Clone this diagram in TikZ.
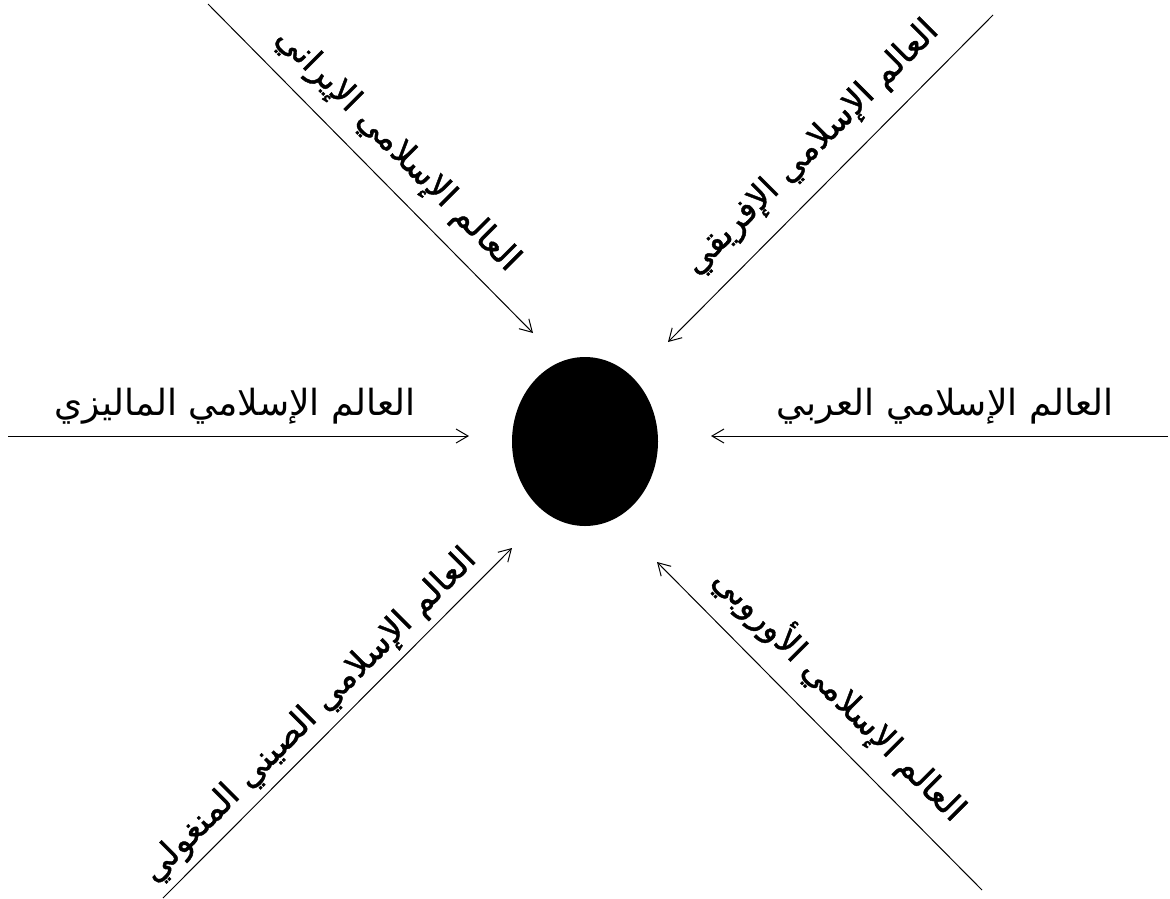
\documentclass[tikz,border=0pt]{standalone}
\usepackage{fontspec}
\usetikzlibrary{arrows.meta,shapes.geometric}
\newfontfamily\arabicfont[Script=Arabic]{DejaVu Sans}
\newfontfamily\arabicheavy[Script=Arabic,FakeBold=1.2]{DejaVu Sans}
\TeXXeTstate=1
\begin{document}
\begin{tikzpicture}[x=1pt,y=-1pt,
  conn/.style={draw=black, line width=1pt, -{Straight Barb[length=12pt,width=14pt,line width=1pt]}},
  hlabel/.style={font=\arabicfont\fontsize{36}{42}\selectfont, inner sep=0pt, anchor=base},
  dlabel/.style={font=\arabicheavy\fontsize{34}{40}\selectfont, inner sep=0pt}]
\useasboundingbox (0,0) rectangle (1170,898);
\node[ellipse, fill=black, minimum width=146pt, minimum height=169pt, inner sep=0pt] (core) at (585,441.5) {};
% connector ends
\coordinate (tlS) at (208,4);   \coordinate (tlE) at (533,333);
\coordinate (trS) at (993,15);  \coordinate (trE) at (668,342);
\coordinate (lS) at (8,436);    \coordinate (lE) at (469,436);
\coordinate (rS) at (1168,436); \coordinate (rE) at (711,436);
\coordinate (blS) at (163,898); \coordinate (blE) at (512,548);
\coordinate (brS) at (982,890); \coordinate (brE) at (657,562);
\draw[conn] (tlS) -- (tlE);
\draw[conn] (trS) -- (trE);
\draw[conn] (lS) -- (lE);
\draw[conn] (rS) -- (rE);
\draw[conn] (blS) -- (blE);
\draw[conn] (brS) -- (brE);
% labels
\node[hlabel] (lL) at (235,415) {\beginR العالم الإسلامي الماليزي\endR};
\node[hlabel] (rL) at (945,415) {\beginR العالم الإسلامي العربي\endR};
\node[dlabel, rotate=-45] (tlL) at (397,150) {\beginR العالم الإسلامي الإيراني\endR};
\node[dlabel, rotate=45] (trL) at (812,148) {\beginR العالم الإسلامي الإفريقي\endR};
\node[dlabel, rotate=45] (blL) at (310,716) {\beginR العالم الإسلامي الصيني المنغولي\endR};
\node[dlabel, rotate=-45] (brL) at (840,694) {\beginR العالم الإسلامي الأوروبي\endR};
\end{tikzpicture}
\end{document}
